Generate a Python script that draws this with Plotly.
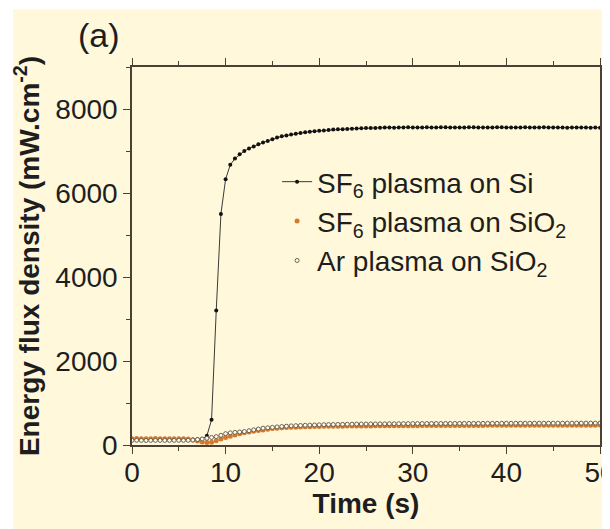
import plotly.graph_objects as go

# time grid (s), sampled every 0.5 s
time_s = [i * 0.5 for i in range(101)]

sf6_si = [
    130, 132, 130, 128, 130, 131, 129, 130,
    132, 130, 129, 131, 130, 133, 136, 142,
    220, 600, 3200, 5500, 6330,
    6670, 6820, 6920, 7000, 7060, 7110, 7160, 7200,
    7240, 7280, 7320, 7350, 7370, 7390, 7410, 7430,
    7445, 7460, 7470, 7480, 7490, 7500, 7510, 7515,
    7520, 7525, 7530, 7535, 7540, 7545, 7550, 7550,
    7555, 7558, 7560, 7556, 7562, 7560, 7565, 7558,
    7560, 7562, 7566, 7560, 7558, 7563, 7565, 7560,
    7562, 7558, 7560, 7564, 7566, 7560, 7558, 7562,
    7560, 7565, 7563, 7560, 7558, 7562, 7560, 7564,
    7560, 7558, 7562, 7565, 7560, 7558, 7562, 7560,
    7556, 7560, 7562, 7558, 7560, 7555, 7558, 7556,
]

sf6_sio2 = [
    150, 152, 150, 148, 150, 152, 150, 149,
    150, 151, 148, 146, 140, 120, 95, 70,
    60, 65, 100, 140, 180,
    210, 240, 265, 290, 310, 330, 345, 360,
    375, 390, 400, 410, 415, 420, 425, 430,
    433, 436, 440, 442, 444, 446, 447, 448,
    449, 450, 451, 452, 453, 454, 455, 456,
    456, 457, 458, 458, 459, 460, 460, 461,
    461, 462, 462, 463, 463, 464, 464, 465,
    465, 465, 466, 466, 467, 467, 467, 468,
    468, 468, 469, 469, 469, 470, 470, 470,
    470, 471, 471, 471, 471, 472, 472, 472,
    472, 472, 473, 473, 473, 473, 473, 474,
]

ar_sio2 = [
    110, 112, 110, 108, 110, 111, 110, 109,
    110, 111, 112, 110, 112, 118, 130, 145,
    160, 180, 200, 230, 270,
    290, 300, 310, 320, 340, 360, 380, 400,
    410, 420, 430, 440, 448, 455, 460, 465,
    470, 474, 477, 480, 483, 486, 488, 490,
    492, 494, 496, 498, 499, 500, 501, 502,
    503, 504, 505, 506, 507, 508, 509, 510,
    510, 511, 511, 512, 512, 512, 513, 513,
    513, 514, 514, 514, 515, 515, 515, 516,
    516, 516, 517, 517, 517, 518, 518, 518,
    518, 519, 519, 519, 519, 520, 520, 520,
    520, 520, 521, 521, 521, 521, 521, 522,
]

x_ticks = [0, 10, 20, 30, 40, 50]
y_ticks = [0, 2000, 4000, 6000, 8000]

CREAM = "#FFF8DA"
AXIS = "#4a4035"
TEXT = "#1e1e1e"
FONT = "Liberation Sans, Arial, sans-serif"

fig = go.Figure()
fig.add_trace(go.Scatter(
    x=time_s, y=sf6_si, mode="lines+markers",
    name="SF<sub>6</sub> plasma on Si",
    line=dict(color="#3a3a3a", width=1),
    marker=dict(color="#111111", size=4, symbol="circle"),
    legendgroup="a",
))
fig.add_trace(go.Scatter(
    x=time_s, y=sf6_sio2, mode="markers",
    name="SF<sub>6</sub> plasma on SiO<sub>2</sub>",
    marker=dict(color="#D57A2C", size=5, symbol="circle"),
    legendgroup="b",
))
fig.add_trace(go.Scatter(
    x=time_s, y=ar_sio2, mode="markers",
    name="Ar plasma on SiO<sub>2</sub>",
    marker=dict(color="#FFFDF2", size=4, symbol="circle",
                line=dict(color="#6a6050", width=1)),
    legendgroup="c",
))

axis_common = dict(
    showline=True, linecolor=AXIS, linewidth=1.5, mirror="allticks",
    ticks="outside", ticklen=7, tickwidth=1.2, tickcolor=AXIS,
    showgrid=False, zeroline=False, automargin=False,
    ticklabeloverflow="allow",
    tickfont=dict(family=FONT, size=28, color=TEXT),
)

fig.update_xaxes(
    range=[0, 50], tickvals=x_ticks, ticklabelstandoff=-5,
    minor=dict(dtick=5, ticks="outside", ticklen=4, tickcolor=AXIS, showgrid=False),
    title=dict(text="<b>Time (s)</b>", font=dict(family=FONT, size=28, color=TEXT), standoff=4),
    **axis_common,
)
fig.update_yaxes(
    range=[0, 9000], tickvals=y_ticks,
    minor=dict(dtick=1000, ticks="outside", ticklen=4, tickcolor=AXIS, showgrid=False),
    title=dict(text="<b>Energy flux density (mW.cm<sup>-2</sup>)</b>",
               font=dict(family=FONT, size=28, color=TEXT), standoff=8),
    **axis_common,
)

fig.add_shape(type="rect", xref="paper", yref="paper",
              x0=-0.254, x1=1.03, y0=-0.23, y1=1.153,
              fillcolor=CREAM, line=dict(width=0), layer="below")

fig.add_annotation(text="(a)", xref="paper", yref="paper",
                   x=-0.07, y=1.085, xanchor="center", yanchor="middle",
                   showarrow=False, font=dict(family=FONT, size=34, color=TEXT))

fig.update_layout(
    width=602, height=521,
    margin=dict(l=124, r=10, t=59, b=84, autoexpand=False),
    paper_bgcolor="white", plot_bgcolor=CREAM,
    font=dict(family=FONT, color=TEXT),
    showlegend=True,
    legend=dict(x=0.31, y=0.762, xanchor="left", yanchor="top",
                bgcolor="rgba(0,0,0,0)", borderwidth=0,
                font=dict(family=FONT, size=28, color=TEXT),
                traceorder="grouped", tracegroupgap=0,
                itemwidth=30),
)

fig.write_html("out.html")
